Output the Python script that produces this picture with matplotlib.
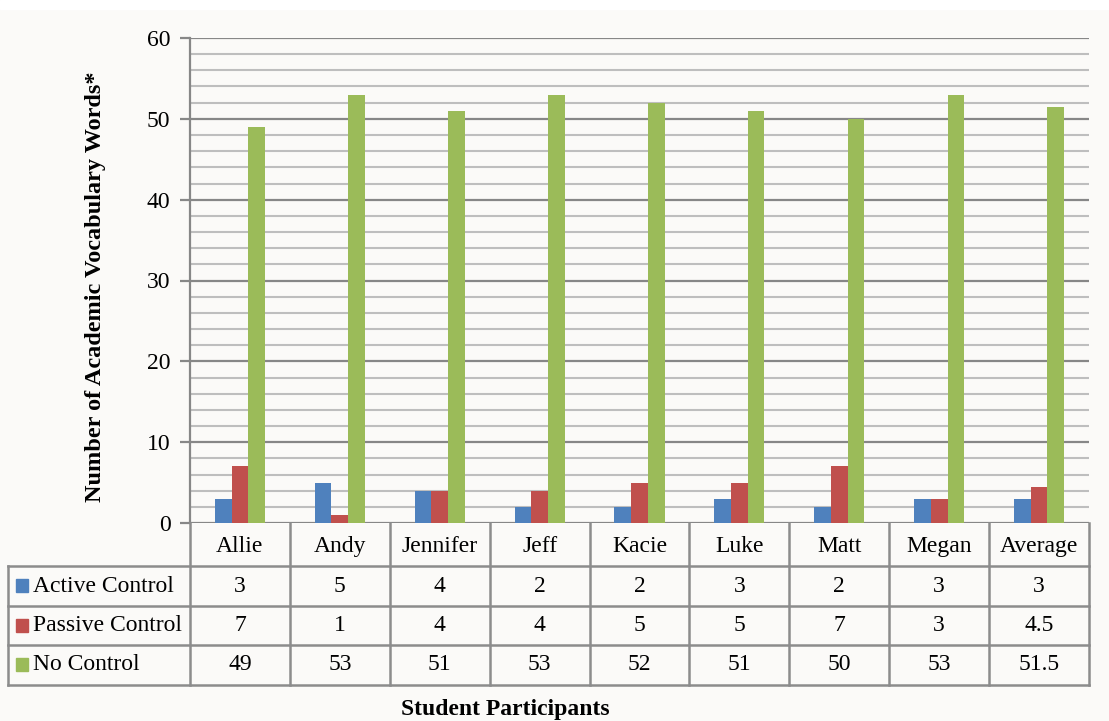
import numpy as np
import matplotlib.pyplot as plt
from matplotlib.lines import Line2D
from matplotlib.patches import Rectangle

plt.rcParams['font.family'] = ['Liberation Serif', 'DejaVu Serif']

# -----------------------------
# Data
# -----------------------------
students = ["Allie", "Andy", "Jennifer", "Jeff", "Kacie", "Luke", "Matt", "Megan", "Average"]
active = [3, 5, 4, 2, 2, 3, 2, 3, 3]
passive = [7, 1, 4, 4, 5, 5, 7, 3, 4.5]
no_control = [49, 53, 51, 53, 52, 51, 50, 53, 51.5]
series_names = ["Active Control", "Passive Control", "No Control"]
colors = ["#4F81BD", "#C0504D", "#9BBB59"]

W, H = 1109, 721
bg = "#FBFAF8"
grid_major = "#878787"
grid_minor = "#BEBEBE"
line_col = "#8C8C8C"

fig = plt.figure(figsize=(W / 100, H / 100), dpi=100, facecolor=bg)

# plot area in pixels
left, right, top, bottom = 190, 1089, 38, 523
ax = fig.add_axes([left / W, 1 - bottom / H, (right - left) / W, (bottom - top) / H])
ax.set_facecolor(bg)

x = np.arange(len(students))
bw = 0.167
for i, (vals, c) in enumerate(zip([active, passive, no_control], colors)):
    ax.bar(x + (i - 1) * bw, vals, width=bw, color=c, zorder=3)

ax.set_xlim(-0.5, len(students) - 0.5)
ax.set_ylim(0, 60)
ax.set_yticks(np.arange(0, 61, 10))
ax.set_yticks(np.arange(0, 61, 2), minor=True)
ax.grid(True, which="major", axis="y", color=grid_major, linewidth=1.6, zorder=1)
ax.grid(True, which="minor", axis="y", color=grid_minor, linewidth=1.5, zorder=0)
ax.set_xticks([])
ax.tick_params(axis="y", which="major", length=7, width=1.6, color=grid_major,
               labelsize=17, pad=7)
ax.tick_params(axis="y", which="minor", length=0)
for s in ["top", "right", "bottom"]:
    ax.spines[s].set_visible(False)
ax.spines["left"].set_color(grid_major)
ax.spines["left"].set_linewidth(1.6)

ax.set_ylabel("Number of Academic Vocabulary Words*", fontsize=17.5, fontweight="bold")
ax.yaxis.set_label_coords((106 - left) / (right - left), (bottom - 287) / (bottom - top))

# -----------------------------
# Data table below the plot
# -----------------------------
tab = fig.add_axes([0, 0, 1, 1], facecolor="none")
tab.set_xlim(0, W)
tab.set_ylim(H, 0)
tab.axis("off")

col_w = (right - left) / len(students)
col_edges = [left + k * col_w for k in range(len(students) + 1)]
row_edges = [bottom, 566, 606, 645, 685]
legend_left = 8

def hline(y, x0, x1):
    tab.add_line(Line2D([x0, x1], [y, y], color=line_col, linewidth=1.8))

def vline(xp, y0, y1):
    tab.add_line(Line2D([xp, xp], [y0, y1], color=line_col, linewidth=1.8))

for ye in row_edges[1:]:
    hline(ye, legend_left, right)
vline(legend_left, row_edges[1], row_edges[-1])
vline(left, bottom, row_edges[-1])
for xe in col_edges[1:]:
    vline(xe, bottom, row_edges[-1])

# header row
for k, name in enumerate(students):
    cx = (col_edges[k] + col_edges[k + 1]) / 2
    tab.text(cx, (row_edges[0] + row_edges[1]) / 2 + 2, name, ha="center", va="center",
             fontsize=17)

# value rows
for r, (name, vals, c) in enumerate(zip(series_names, [active, passive, no_control], colors)):
    cy = (row_edges[r + 1] + row_edges[r + 2]) / 2
    tab.add_patch(Rectangle((16, cy - 7), 12, 13, color=c))
    tab.text(33, cy, name, ha="left", va="center", fontsize=17)
    for k, v in enumerate(vals):
        cx = (col_edges[k] + col_edges[k + 1]) / 2
        tab.text(cx, cy, f"{v:g}", ha="center", va="center", fontsize=17)

tab.text(505, 710, "Student Participants", ha="center", va="center", fontsize=17,
         fontweight="bold")

# white strip at top like the source image
tab.add_patch(Rectangle((0, 0), W, 9, color="white", zorder=-1))

fig.savefig("out.png", dpi=100, facecolor=bg)
